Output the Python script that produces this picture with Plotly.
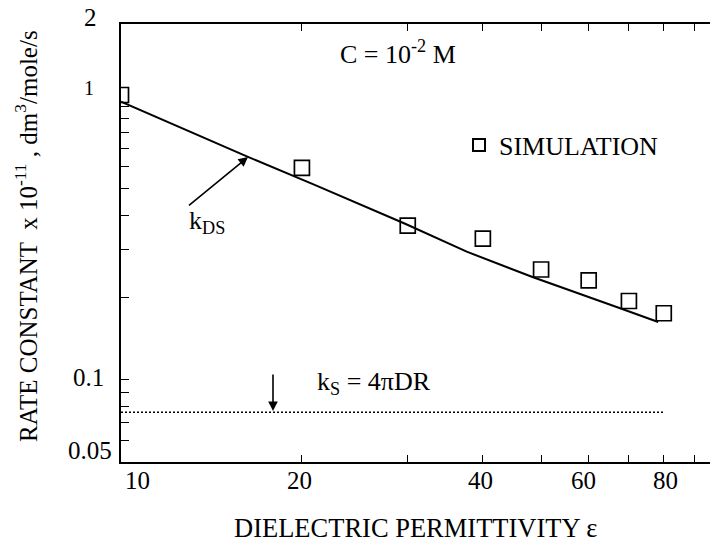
import numpy as np
import plotly.graph_objects as go

# --- data ---
eps_sim = [10, 20, 30, 40, 50, 60, 70, 80]
k_sim = [1.10, 0.595, 0.366, 0.328, 0.253, 0.231, 0.194, 0.175]

eps_ds = [10, 16.3, 21, 29.7, 37.6, 48.5, 67.5, 78.3]
k_ds = [1.04, 0.652, 0.516, 0.372, 0.294, 0.237, 0.183, 0.1625]

eps_s = [10, 80]
k_s = [0.076, 0.076]

x_tickvals = [20, 30, 40, 50, 60, 70, 80, 90]
x_labelvals = [10, 20, 40, 60, 80]
x_labels = ["10", "20", "40", "60", "80"]
y_tickvals = [0.06, 0.07, 0.08, 0.09, 0.1, 0.2, 0.3, 0.4, 0.5, 0.6, 0.7, 0.8, 0.9, 1, 2]
y_labelvals = [2, 1, 0.1, 0.05]
y_labels = ["2", "1", "0.1", "0.05"]

FONT = "Liberation Serif"
W, H = 711, 548
L, R, T, B = 121, 1, 24, 86


def px(X):
    return (X - L) / (W - L - R)


def py(Y):
    return (H - B - Y) / (H - B - T)


fig = go.Figure()
fig.add_trace(go.Scatter(x=eps_ds, y=k_ds, mode="lines",
                         line=dict(color="black", width=2), showlegend=False))
fig.add_trace(go.Scatter(x=eps_s, y=k_s, mode="lines",
                         line=dict(color="black", width=1.5, dash="2px,2px"), showlegend=False))
fig.add_trace(go.Scatter(x=eps_sim, y=k_sim, mode="markers", name="SIMULATION",
                         marker=dict(symbol="square-open", size=15, color="black",
                                     line=dict(width=1.7, color="black")),
                         showlegend=True))

fig.update_layout(
    width=W, height=H,
    margin=dict(l=L, r=R, t=T, b=B),
    paper_bgcolor="white", plot_bgcolor="white",
    font=dict(family=FONT, size=25, color="black"),
    legend=dict(x=px(459), y=py(145), xanchor="left", yanchor="middle",
                bgcolor="rgba(0,0,0,0)",
                font=dict(family=FONT, size=26, color="black"), itemsizing="constant"),
    xaxis=dict(type="log", range=[1, np.log10(95.5)],
               tickvals=x_tickvals, showticklabels=False,
               ticks="inside", ticklen=7, tickwidth=1.3, tickcolor="black",
               showline=True, linecolor="black", linewidth=2, mirror="ticks",
               showgrid=False, zeroline=False),
    yaxis=dict(type="log", range=[np.log10(0.05), np.log10(2)],
               tickvals=y_tickvals, showticklabels=False,
               ticks="inside", ticklen=8, tickwidth=1.3, tickcolor="black",
               showline=True, linecolor="black", linewidth=2.2,
               showgrid=False, zeroline=False),
)

ann = []


def text_at(X, Y, txt, size, angle=0):
    return dict(x=px(X), y=py(Y), xref="paper", yref="paper", text=txt,
                showarrow=False, xanchor="center", yanchor="middle",
                textangle=angle, font=dict(size=size))


# x tick labels
x_shift = {10: 16, 20: -2, 40: -2, 60: -5, 80: 2}
for v, t in zip(x_labelvals, x_labels):
    ann.append(dict(x=np.log10(v), y=py(480), xref="x", yref="paper", text=t,
                    showarrow=False, xanchor="center", yanchor="middle",
                    xshift=x_shift[v], font=dict(size=25)))
# y tick labels (placed as in the reference)
y_pos = {2: (90, 17, 25), 1: (89, 88, 20), 0.1: (88, 377, 25), 0.05: (90, 450, 25)}
for v, t in zip(y_labelvals, y_labels):
    xx, yy, fs = y_pos[v]
    ann.append(text_at(xx, yy, t, fs))

# axis titles
ann.append(text_at(26, 236, "RATE CONSTANT  x 10<sup>-11</sup> , dm<sup>3</sup>/mole/s", 25, -90))
ann.append(text_at(415, 528, "DIELECTRIC PERMITTIVITY ε", 26.5))

# in-plot texts
ann.append(text_at(398, 52, "C = 10<sup>-2</sup> M", 26))
ann.append(text_at(207, 222, "k<sub>DS</sub>", 26))
ann.append(text_at(374, 383, "k<sub>S</sub> = 4πDR", 26))
# arrows
ann.append(dict(x=px(248), y=py(157), xref="paper", yref="paper", text=" ",
                showarrow=True, axref="pixel", ayref="pixel", ax=-61, ay=50,
                arrowhead=2, arrowsize=1.2, arrowwidth=1.6, arrowcolor="black",
                standoff=0, startstandoff=0, font=dict(size=2)))
ann.append(dict(x=px(273), y=py(411), xref="paper", yref="paper", text=" ",
                showarrow=True, axref="pixel", ayref="pixel", ax=0, ay=-39,
                arrowhead=2, arrowsize=1.2, arrowwidth=1.6, arrowcolor="black",
                standoff=0, startstandoff=0, font=dict(size=2)))

fig.update_layout(annotations=ann)
fig.write_html("out.html", config={"displayModeBar": False},
               post_script="document.body.style.margin='0';document.body.style.overflow='hidden';")
